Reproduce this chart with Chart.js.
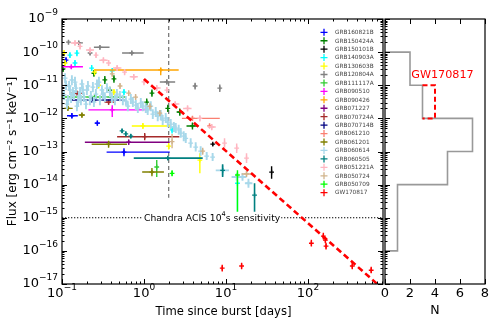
<!DOCTYPE html>
<html><head><meta charset="utf-8">
<script src="https://cdn.jsdelivr.net/npm/chart.js@4.4.0/dist/chart.umd.min.js"></script>
<style>
html,body{margin:0;padding:0;background:#fff;}
#wrap{position:relative;width:500px;height:324px;background:#fff;}
canvas{position:absolute;left:0;top:0;}
</style></head><body>
<div id="wrap"><canvas id="main" width="500" height="324"></canvas><canvas id="hist" width="500" height="324"></canvas></div>
<script>
// Each row: [time(days), timeLow, timeHigh, flux, fluxLow, fluxHigh]  (null = no time bar)
const GRB160821B = [
  [0.112,null,null,5.7e-11,4.6e-11,7e-11],
  [0.132,0.115,0.156,1.2e-12,1.0e-12,1.45e-12],
  [0.27,0.25,0.29,7.2e-13,6e-13,8.7e-13],
  [0.57,0.35,2.06,9.6e-14,7.2e-14,1.26e-13]
];
const GRB150424A = [
  [0.103,null,null,3.1e-11,2.5e-11,3.8e-11],
  [0.245,null,null,2.3e-11,1.8e-11,2.9e-11],
  [0.333,null,null,1.45e-11,1.1e-11,1.9e-11],
  [0.384,null,null,7.1e-12,5.6e-12,9e-12],
  [0.43,null,null,1.55e-11,1.2e-11,2e-11],
  [0.25,null,null,4.1e-12,3.2e-12,5.2e-12],
  [1.08,null,null,3.1e-12,2.4e-12,4e-12],
  [1.25,null,null,5.8e-12,4.5e-12,7.4e-12],
  [1.95,null,null,2.0e-12,1.55e-12,2.6e-12],
  [2.73,2.5,3.0,1.55e-12,1.2e-12,2e-12],
  [3.9,3.3,4.6,5.9e-13,4.6e-13,7.5e-13]
];
const GRB150101B = [
  [6.9,null,null,1.66e-13,1.5e-13,1.85e-13],
  [36,null,null,2.4e-14,1.5e-14,3.6e-14]
];
const GRB140903A = [
  [0.125,null,null,8.1e-11,6.6e-11,1e-10],
  [0.152,null,null,9.3e-11,7.5e-11,1.15e-10],
  [0.144,null,null,4.7e-11,3.8e-11,5.8e-11],
  [0.23,null,null,3.3e-11,2.7e-11,4.1e-11],
  [0.41,null,null,2.7e-11,2.2e-11,3.3e-11],
  [0.57,null,null,6.2e-12,5e-12,7.7e-12],
  [2.2,null,null,4.5e-13,3.5e-13,5.8e-13],
  [13.8,null,null,1.1e-14,1.4e-15,1.7e-14]
];
const GRB130603B = [
  [0.106,null,null,9.3e-11,7.5e-11,1.15e-10],
  [0.109,null,null,4.7e-11,3.8e-11,5.8e-11],
  [0.25,null,null,2.5e-11,2e-11,3.1e-11],
  [0.28,null,null,1.0e-11,8e-12,1.25e-11],
  [0.43,null,null,6.2e-12,5e-12,7.7e-12],
  [0.97,0.71,2.1,5.9e-13,4.8e-13,7.3e-13],
  [2.0,null,null,1.45e-13,1.15e-13,1.8e-13],
  [4.8,null,null,5.5e-14,2.2e-14,8.9e-14]
];
const GRB120804A = [
  [0.12,null,null,2.0e-10,1.7e-10,2.3e-10],
  [0.16,0.14,0.18,1.9e-10,1.65e-10,2.2e-10],
  [0.22,null,null,9.4e-11,8e-11,1.1e-10],
  [0.29,0.245,0.38,1.4e-10,1.2e-10,1.6e-10],
  [0.71,0.54,0.99,9.4e-11,8e-11,1.1e-10],
  [1.9,1.56,2.4,1.26e-11,1.05e-11,1.5e-11],
  [4.2,null,null,9.5e-12,7.5e-12,1.2e-11],
  [8.4,null,null,8.2e-12,6.3e-12,1.05e-11]
];
const GRB111117A = [
  [0.25,0.1,0.6,4.4e-12,3.8e-12,5.1e-12],
  [1.43,null,null,3.4e-14,1.7e-14,5.5e-14]
];
const GRB090510 = [
  [0.13,0.1,0.18,3.6e-11,3.1e-11,4.2e-11],
  [0.41,0.21,1.02,1.8e-12,1.1e-12,2.5e-12]
];
const GRB090426 = [
  [1.6,0.25,2.65,2.9e-11,2.0e-11,3.4e-11]
];
const GRB071227 = [
  [0.65,0.19,2.06,1.9e-13,1.6e-13,2.3e-13]
];
const GRB070724A = [
  [0.152,0.125,0.18,5.8e-12,5e-12,6.8e-12],
  [0.37,0.33,0.45,3.1e-12,2.6e-12,3.7e-12],
  [1.02,0.47,2.7,2.8e-13,2.2e-13,3.6e-13]
];
const GRB070714B = [
  [0.23,0.13,0.58,3.6e-12,3e-12,4.3e-12]
];
const GRB061210 = [
  [3.9,2.9,8.4,1.0e-12,8.5e-13,1.2e-12],
  [6.3,null,null,5.9e-13,5e-13,7e-13]
];
const GRB061201 = [
  [0.118,0.105,0.135,2.0e-12,1.7e-12,2.4e-12],
  [0.175,0.16,0.19,1.26e-12,1.05e-12,1.5e-12],
  [0.37,0.23,0.62,1.66e-13,1.3e-13,2.1e-13],
  [1.25,0.95,1.75,2.4e-14,1.8e-14,3.2e-14]
];
const GRB060614 = [
  [0.106,null,null,5.1e-12,3.6e-12,7.2e-12],
  [0.109,null,null,1.65e-11,1.15e-11,2.3e-11],
  [0.112,null,null,1.01e-11,7.2e-12,1.4e-11],
  [0.115,null,null,2.7e-12,1.9e-12,3.8e-12],
  [0.118,null,null,3.6e-12,2.5e-12,5.1e-12],
  [0.122,null,null,9.5e-12,6.7e-12,1.35e-11],
  [0.125,null,null,7.2e-12,5.1e-12,1.0e-11],
  [0.129,null,null,4.1e-12,2.9e-12,5.8e-12],
  [0.132,null,null,1.44e-11,1.0e-11,2.0e-11],
  [0.136,null,null,6.2e-12,4.4e-12,8.8e-12],
  [0.140,null,null,5.1e-12,3.6e-12,7.2e-12],
  [0.144,null,null,1.25e-11,8.8e-12,1.8e-11],
  [0.148,null,null,8.2e-12,5.8e-12,1.15e-11],
  [0.152,null,null,2.35e-12,1.65e-12,3.3e-12],
  [0.157,null,null,3.1e-12,2.2e-12,4.4e-12],
  [0.161,null,null,4.7e-12,3.3e-12,6.7e-12],
  [0.166,null,null,6.2e-12,4.4e-12,8.8e-12],
  [0.170,null,null,3.6e-12,2.5e-12,5.1e-12],
  [0.175,null,null,1.09e-11,7.7e-12,1.5e-11],
  [0.180,null,null,7.2e-12,5.1e-12,1.0e-11],
  [0.185,null,null,4.4e-12,3.1e-12,6.2e-12],
  [0.196,null,null,2.7e-12,1.9e-12,3.8e-12],
  [0.201,null,null,7.2e-12,5.1e-12,1.0e-11],
  [0.207,null,null,9.5e-12,6.7e-12,1.35e-11],
  [0.219,null,null,3.6e-12,2.5e-12,5.1e-12],
  [0.225,null,null,4.7e-12,3.3e-12,6.7e-12],
  [0.238,null,null,8.8e-12,6.2e-12,1.25e-11],
  [0.245,null,null,3.1e-12,2.2e-12,4.4e-12],
  [0.259,null,null,5.4e-12,3.8e-12,7.7e-12],
  [0.267,null,null,1.09e-11,7.7e-12,1.5e-11],
  [0.282,null,null,1.25e-11,8.8e-12,1.8e-11],
  [0.290,null,null,3.6e-12,2.5e-12,5.1e-12],
  [0.307,null,null,7.2e-12,5.1e-12,1.0e-11],
  [0.315,null,null,5.4e-12,3.8e-12,7.7e-12],
  [0.333,null,null,4.4e-12,3.1e-12,6.2e-12],
  [0.353,null,null,8.2e-12,5.8e-12,1.15e-11],
  [0.384,null,null,6.2e-12,4.4e-12,8.8e-12],
  [0.406,null,null,4.1e-12,2.9e-12,5.8e-12],
  [0.442,null,null,3.6e-12,2.5e-12,5.1e-12],
  [0.467,null,null,5.4e-12,3.8e-12,7.7e-12],
  [0.508,null,null,4.7e-12,3.3e-12,6.7e-12],
  [0.552,null,null,3.6e-12,2.5e-12,5.1e-12],
  [0.601,null,null,3.3e-12,2.4e-12,4.7e-12],
  [0.635,null,null,2.35e-12,1.65e-12,3.3e-12],
  [0.691,null,null,3.8e-12,2.7e-12,5.4e-12],
  [0.731,null,null,3.1e-12,2.2e-12,4.4e-12],
  [0.795,null,null,2.5e-12,1.8e-12,3.6e-12],
  [0.841,null,null,2.05e-12,1.45e-12,2.9e-12],
  [0.914,null,null,2.9e-12,2.05e-12,4.1e-12],
  [0.967,null,null,2.35e-12,1.65e-12,3.3e-12],
  [1.05,null,null,2.05e-12,1.45e-12,2.9e-12],
  [1.11,null,null,1.8e-12,1.27e-12,2.55e-12],
  [1.21,null,null,2.35e-12,1.65e-12,3.3e-12],
  [1.28,null,null,1.35e-12,9.5e-13,1.9e-12],
  [1.39,null,null,1.55e-12,1.1e-12,2.2e-12],
  [1.47,null,null,1.17e-12,8.2e-13,1.65e-12],
  [1.60,null,null,1.26e-12,9e-13,1.8e-12],
  [1.69,null,null,8.9e-13,6.3e-13,1.26e-12],
  [1.84,null,null,1.02e-12,7.2e-13,1.45e-12],
  [1.95,null,null,7.7e-13,5.4e-13,1.1e-12],
  [2.12,null,null,6.7e-13,4.7e-13,9.5e-13],
  [2.31,null,null,5.5e-13,3.9e-13,7.8e-13],
  [2.44,null,null,5.1e-13,3.6e-13,7.2e-13],
  [2.65,null,null,4.5e-13,3.2e-13,6.4e-13],
  [2.81,null,null,3.6e-13,2.6e-13,5.1e-13],
  [3.05,null,null,2.9e-13,2.05e-13,4.1e-13],
  [3.23,null,null,2.5e-13,1.8e-13,3.6e-13],
  [3.71,null,null,1.8e-13,1.3e-13,2.5e-13],
  [4.27,null,null,1.36e-13,1e-13,1.9e-13],
  [4.91,null,null,1.03e-13,7.5e-14,1.45e-13],
  [5.81,null,null,7.3e-14,5.5e-14,9.7e-14],
  [6.87,null,null,6.8e-14,5.2e-14,9e-14],
  [9.1,7.5,10.9,2.7e-14,1.9e-14,3.8e-14],
  [13.5,11.7,15.5,1.7e-14,1.3e-14,2.2e-14],
  [15.9,14.2,17.8,1.7e-14,1.3e-14,2.2e-14],
  [18.8,17,21,1.1e-14,8e-15,1.5e-14]
];
const GRB060505 = [
  [0.54,null,null,4.2e-13,3.6e-13,4.9e-13],
  [0.6,null,null,3.4e-13,2.9e-13,4e-13],
  [0.69,null,null,2.9e-13,2.5e-13,3.4e-13],
  [1.95,0.75,5.2,6.3e-14,5.5e-14,7.2e-14],
  [9.1,null,null,2.7e-14,1.7e-14,4.1e-14],
  [22.3,null,null,4.8e-15,1.5e-15,1.1e-14]
];
const GRB051221A = [
  [0.144,0.128,0.162,1.9e-10,1.55e-10,2.3e-10],
  [0.166,null,null,1.5e-10,1.2e-10,1.85e-10],
  [0.22,0.196,0.246,1.15e-10,9.3e-11,1.4e-10],
  [0.26,null,null,8.1e-11,6.6e-11,1e-10],
  [0.32,0.285,0.36,5.7e-11,4.6e-11,7e-11],
  [0.37,null,null,4.7e-11,3.8e-11,5.8e-11],
  [0.47,0.42,0.53,3.3e-11,2.7e-11,4.1e-11],
  [0.58,null,null,2.5e-11,2e-11,3.1e-11],
  [0.75,0.67,0.84,1.8e-11,1.45e-11,2.2e-11],
  [1.0,null,null,1.26e-11,1e-11,1.55e-11],
  [1.43,1.28,1.6,8.3e-12,6.7e-12,1.02e-11],
  [1.9,null,null,7.1e-12,5.8e-12,8.8e-12],
  [2.4,2.15,2.7,2.7e-12,2.2e-12,3.3e-12],
  [3.4,3.0,3.8,2.0e-12,1.6e-12,2.5e-12],
  [4.8,null,null,1.0e-12,8e-13,1.25e-12],
  [6.7,6.0,7.5,5.5e-13,4.4e-13,6.8e-13],
  [9.6,null,null,1.8e-13,1.3e-13,2.5e-13],
  [13.5,null,null,1.26e-13,9e-14,1.75e-13],
  [17.8,null,null,6.3e-14,4.5e-14,8.8e-14]
];
const GRB050724 = [
  [0.41,null,null,2.2e-11,1.8e-11,2.7e-11],
  [0.51,null,null,9.5e-12,7.7e-12,1.17e-11],
  [0.65,null,null,5.8e-12,4.7e-12,7.1e-12],
  [0.79,null,null,4.4e-12,3.6e-12,5.4e-12],
  [1.18,null,null,2.3e-12,1.85e-12,2.85e-12],
  [1.56,null,null,1.45e-12,1.17e-12,1.8e-12],
  [2.2,null,null,2.0e-13,1.26e-13,3.4e-13],
  [5.2,null,null,1.02e-13,8e-14,1.3e-13],
  [17.8,15.5,20.5,2.1e-14,1.7e-14,2.6e-14]
];
const GRB050709 = [
  [2.2,null,null,2.2e-14,1.8e-14,2.7e-14],
  [13.8,null,null,1.95e-14,1.2e-15,2.7e-14]
];
const GW170817 = [
  [9.0,null,null,3.0e-17,2.4e-17,3.8e-17],
  [15.5,null,null,3.5e-17,2.8e-17,4.4e-17],
  [110,null,null,1.7e-16,1.35e-16,2.15e-16],
  [154,null,null,2.8e-16,2.2e-16,3.5e-16],
  [163,null,null,2.1e-16,1.7e-16,2.6e-16],
  [166,null,null,1.4e-16,1.1e-16,1.75e-16],
  [347,null,null,3.5e-17,2.8e-17,4.4e-17],
  [590,null,null,2.6e-17,2.1e-17,3.3e-17]
];

const seriesNames = ['GRB160821B','GRB150424A','GRB150101B','GRB140903A','GRB130603B','GRB120804A','GRB111117A','GRB090510','GRB090426','GRB071227','GRB070724A','GRB070714B','GRB061210','GRB061201','GRB060614','GRB060505','GRB051221A','GRB050724','GRB050709','GW170817'];
const seriesData = [GRB160821B,GRB150424A,GRB150101B,GRB140903A,GRB130603B,GRB120804A,GRB111117A,GRB090510,GRB090426,GRB071227,GRB070724A,GRB070714B,GRB061210,GRB061201,GRB060614,GRB060505,GRB051221A,GRB050724,GRB050709,GW170817];
const seriesColors = ['#0000ff','#008000','#000000','#00ffff','#ffff00','#808080','#32cd32','#ff00ff','#ffa500','#800080','#a52a2a','#000080','#fa8072','#808000','#a8d8ea','#008080','#ffb6c1','#d2b48c','#00ff00','#ff0000'];
const seriesWidths = [1.4,1.4,1.4,1.4,1.4,1.4,1.4,1.4,1.4,1.4,1.4,1.4,1.4,1.4,1.9,1.6,1.5,1.4,1.4,1.4];

// reference lines
const decayLine = [[1, 1.55e-11], [700, 1e-17]];
const chandraLimit = 1e-15;
const timeRange = [0.1, 822];
const fluxRange = [1e-17, 1e-9];
const markerTime = 2;
const markerFluxEnd = 4e-15;
const chandraText = ['Chandra ACIS 10', '4', 's sensitivity'];
const chandraTextTime = 1;

// histogram (counts per decade of flux)
const histUpper = [1e-9,1e-10,1e-11,1e-12,1e-13,1e-14,1e-15,1e-16];
const histLower = [1e-10,1e-11,1e-12,1e-13,1e-14,1e-15,1e-16,1e-17];
const histCounts = [0,2,3,7,5,1,1,0];
const gwBinIndex = 2;
const gwCountWith = 4;
const nRange = [0, 8];
const nTicks = [0,2,4,6,8];
const xTickExps = [-1,0,1,2];
const yTickExps = [-17,-16,-15,-14,-13,-12,-11,-10,-9];

const FONT = '"DejaVu Sans", sans-serif';

function rowsToPoints(rows){
  const pts=[];
  for(const r of rows){
    const t=r[0], tl=r[1], th=r[2], f=r[3], fl=r[4], fh=r[5];
    if(tl!==null){ pts.push({x:tl,y:f},{x:th,y:f},{x:t,y:null}); }
    pts.push({x:t,y:fl},{x:t,y:f,c:1},{x:t,y:fh},{x:t,y:null});
  }
  return pts;
}

const datasets = [];
seriesData.forEach((rows,i)=>{
  datasets.push({
    label: seriesNames[i],
    data: rowsToPoints(rows),
    showLine: true,
    spanGaps: false,
    borderColor: seriesColors[i],
    backgroundColor: seriesColors[i],
    borderWidth: seriesWidths[i],
    pointStyle: 'cross',
    pointRadius: ctx => (ctx.raw && ctx.raw.c) ? 2.4 : 0,
    pointBorderColor: seriesColors[i],
    pointBorderWidth: 1.3,
    pointHoverRadius: 0,
    order: -i
  });
});
datasets.push({
  label:'decay', data: decayLine.map(p=>({x:p[0],y:p[1]})), showLine:true,
  borderColor:'#ff0000', borderWidth:2.6, borderDash:[6,3.5], pointRadius:0, order:-100
});
datasets.push({
  label:'chandra', data:[{x:timeRange[0],y:chandraLimit},{x:timeRange[1],y:chandraLimit}], showLine:true,
  borderColor:'#000', borderWidth:1.1, borderDash:[1.3,1.7], pointRadius:0, order:100
});
datasets.push({
  label:'t2', data:[{x:markerTime,y:fluxRange[1]},{x:markerTime,y:markerFluxEnd}], showLine:true,
  borderColor:'#7a7a7a', borderWidth:1.3, borderDash:[4,3], pointRadius:0, order:101
});

function drawPow(ctx, exp, x, y, align){
  const e = exp<0 ? '\u2212'+Math.abs(exp) : String(exp);
  ctx.font = '13px '+FONT; const w1 = ctx.measureText('10').width;
  ctx.font = '9px '+FONT; const w2 = ctx.measureText(e).width;
  let x0 = align==='right' ? x-w1-w2 : (align==='center' ? x-(w1+w2)/2 : x);
  ctx.textAlign='left'; ctx.textBaseline='middle'; ctx.fillStyle='#000';
  ctx.font = '13px '+FONT; ctx.fillText('10', x0, y);
  ctx.font = '9px '+FONT; ctx.fillText(e, x0+w1, y-6);
}
function logTicks(min,max){
  const out=[];
  for(let e=Math.floor(Math.log10(min)); e<=Math.ceil(Math.log10(max)); e++){
    for(let m=1;m<10;m++){ const v=m*Math.pow(10,e); if(v>=min*0.999 && v<=max*1.001) out.push({v, major:m===1}); }
  }
  return out;
}

const mainFrame = {
  id:'mainFrame',
  afterDatasetsDraw(chart){
    const ctx=chart.ctx, xs=chart.scales.x, ys=chart.scales.y, a=chart.chartArea;
    ctx.save();
    const px = xs.getPixelForValue(chandraTextTime), py = ys.getPixelForValue(chandraLimit);
    ctx.font='9.2px '+FONT; const w1=ctx.measureText(chandraText[0]).width;
    ctx.font='6.5px '+FONT; const w2=ctx.measureText(chandraText[1]).width;
    ctx.font='9.2px '+FONT; const w3=ctx.measureText(chandraText[2]).width;
    ctx.fillStyle='#fff'; ctx.fillRect(px-1, py-6, w1+w2+w3+2, 12);
    ctx.fillStyle='#000'; ctx.textBaseline='middle'; ctx.textAlign='left';
    ctx.fillText(chandraText[0], px, py+0.5);
    ctx.font='6.5px '+FONT; ctx.fillText(chandraText[1], px+w1, py-3);
    ctx.font='9.2px '+FONT; ctx.fillText(chandraText[2], px+w1+w2, py+0.5);
    const lx = a.right-59, tx = a.right-48, y0 = a.top+13.3, dy = 8.44;
    seriesNames.forEach((n,i)=>{
      const yy = y0+i*dy;
      ctx.strokeStyle=seriesColors[i]; ctx.lineWidth=1.3;
      ctx.beginPath(); ctx.moveTo(lx-3.5,yy); ctx.lineTo(lx+3.5,yy); ctx.moveTo(lx,yy-3.5); ctx.lineTo(lx,yy+3.5); ctx.stroke();
      ctx.fillStyle='#444'; ctx.font='5.8px '+FONT; ctx.textBaseline='middle'; ctx.textAlign='left';
      ctx.fillText(n, tx, yy+0.3);
    });
    ctx.restore();
  },
  afterDraw(chart){
    const ctx=chart.ctx, xs=chart.scales.x, ys=chart.scales.y, a=chart.chartArea;
    ctx.save();
    ctx.strokeStyle='#000'; ctx.lineWidth=1.2;
    ctx.strokeRect(a.left, a.top, a.right-a.left, a.bottom-a.top);
    ctx.lineWidth=1;
    ctx.beginPath();
    logTicks(fluxRange[0],fluxRange[1]).forEach(t=>{
      const y=Math.round(ys.getPixelForValue(t.v))+0.5, L=t.major?5:2.5;
      ctx.moveTo(a.left,y); ctx.lineTo(a.left+L,y);
      ctx.moveTo(a.right,y); ctx.lineTo(a.right-L,y);
    });
    logTicks(timeRange[0],timeRange[1]).forEach(t=>{
      const x=Math.round(xs.getPixelForValue(t.v))+0.5, L=t.major?5:2.5;
      ctx.moveTo(x,a.bottom); ctx.lineTo(x,a.bottom-L);
      ctx.moveTo(x,a.top); ctx.lineTo(x,a.top+L);
    });
    ctx.stroke();
    yTickExps.forEach(e=> drawPow(ctx, e, a.left-4, ys.getPixelForValue(Math.pow(10,e)), 'right'));
    xTickExps.forEach(e=> drawPow(ctx, e, xs.getPixelForValue(Math.pow(10,e)), a.bottom+10, 'center'));
    ctx.fillStyle='#000'; ctx.font='11.6px '+FONT; ctx.textAlign='center'; ctx.textBaseline='alphabetic';
    ctx.fillText('Time since burst [days]', (a.left+a.right)/2+1, 315);
    ctx.save();
    ctx.translate(13, (a.top+a.bottom)/2); ctx.rotate(-Math.PI/2);
    ctx.font='12px '+FONT; ctx.textBaseline='middle';
    ctx.fillText('Flux [erg cm\u207B\u00B2 s\u207B\u00B9 keV\u207B\u00B9]', 0, 0);
    ctx.restore();
    ctx.restore();
  }
};

new Chart(document.getElementById('main'), {
  type:'scatter',
  data:{datasets},
  options:{
    responsive:false, animation:false, devicePixelRatio:1,
    layout:{padding:{left:62,right:117,top:19,bottom:40}},
    scales:{
      x:{type:'logarithmic', min:timeRange[0], max:timeRange[1], display:false},
      y:{type:'logarithmic', min:fluxRange[0], max:fluxRange[1], display:false}
    },
    plugins:{legend:{display:false}, tooltip:{enabled:false}}
  },
  plugins:[mainFrame]
});

const histPts=[];
histCounts.forEach((c,i)=>{ histPts.push({x:c,y:histUpper[i]},{x:c,y:histLower[i]}); });
const histLine = histPts.slice(1,-1);
const base = histCounts[gwBinIndex];
const gwBox = [{x:base,y:histUpper[gwBinIndex]},{x:gwCountWith,y:histUpper[gwBinIndex]},{x:gwCountWith,y:histLower[gwBinIndex]},{x:base,y:histLower[gwBinIndex]}];

const histFrame = {
  id:'histFrame',
  afterDraw(chart){
    const ctx=chart.ctx, xs=chart.scales.x, ys=chart.scales.y, a=chart.chartArea;
    ctx.save();
    ctx.strokeStyle='#000'; ctx.lineWidth=1.2;
    ctx.strokeRect(a.left, a.top, a.right-a.left, a.bottom-a.top);
    ctx.lineWidth=1; ctx.beginPath();
    logTicks(fluxRange[0],fluxRange[1]).forEach(t=>{
      const y=Math.round(ys.getPixelForValue(t.v))+0.5, L=t.major?5:2.5;
      ctx.moveTo(a.left,y); ctx.lineTo(a.left+L,y);
    });
    nTicks.forEach(n=>{
      const x=Math.round(xs.getPixelForValue(n))+0.5;
      ctx.moveTo(x,a.bottom); ctx.lineTo(x,a.bottom-5);
      ctx.moveTo(x,a.top); ctx.lineTo(x,a.top+5);
    });
    ctx.stroke();
    ctx.fillStyle='#000'; ctx.font='13px '+FONT; ctx.textAlign='center'; ctx.textBaseline='middle';
    nTicks.forEach(n=> ctx.fillText(String(n), xs.getPixelForValue(n), a.bottom+10));
    ctx.font='12.5px '+FONT; ctx.textBaseline='alphabetic';
    ctx.fillText('N', (a.left+a.right)/2, 314);
    ctx.fillStyle='#ff0000'; ctx.font='11.2px '+FONT; ctx.textAlign='left'; ctx.textBaseline='middle';
    ctx.fillText('GW170817', xs.getPixelForValue(2.1), ys.getPixelForValue(2e-11));
    ctx.restore();
  }
};

new Chart(document.getElementById('hist'), {
  type:'scatter',
  data:{datasets:[
    {label:'GW', data:gwBox, showLine:true, borderColor:'#ff0000', borderWidth:2, borderDash:[5,3], pointRadius:0, order:0},
    {label:'hist', data:histLine, showLine:true, borderColor:'#999999', borderWidth:1.6, pointRadius:0, order:1}
  ]},
  options:{
    responsive:false, animation:false, devicePixelRatio:1,
    layout:{padding:{left:385,right:15,top:19,bottom:40}},
    scales:{
      x:{type:'linear', min:nRange[0], max:nRange[1], display:false},
      y:{type:'logarithmic', min:fluxRange[0], max:fluxRange[1], display:false}
    },
    plugins:{legend:{display:false}, tooltip:{enabled:false}}
  },
  plugins:[histFrame]
});
</script></body></html>
